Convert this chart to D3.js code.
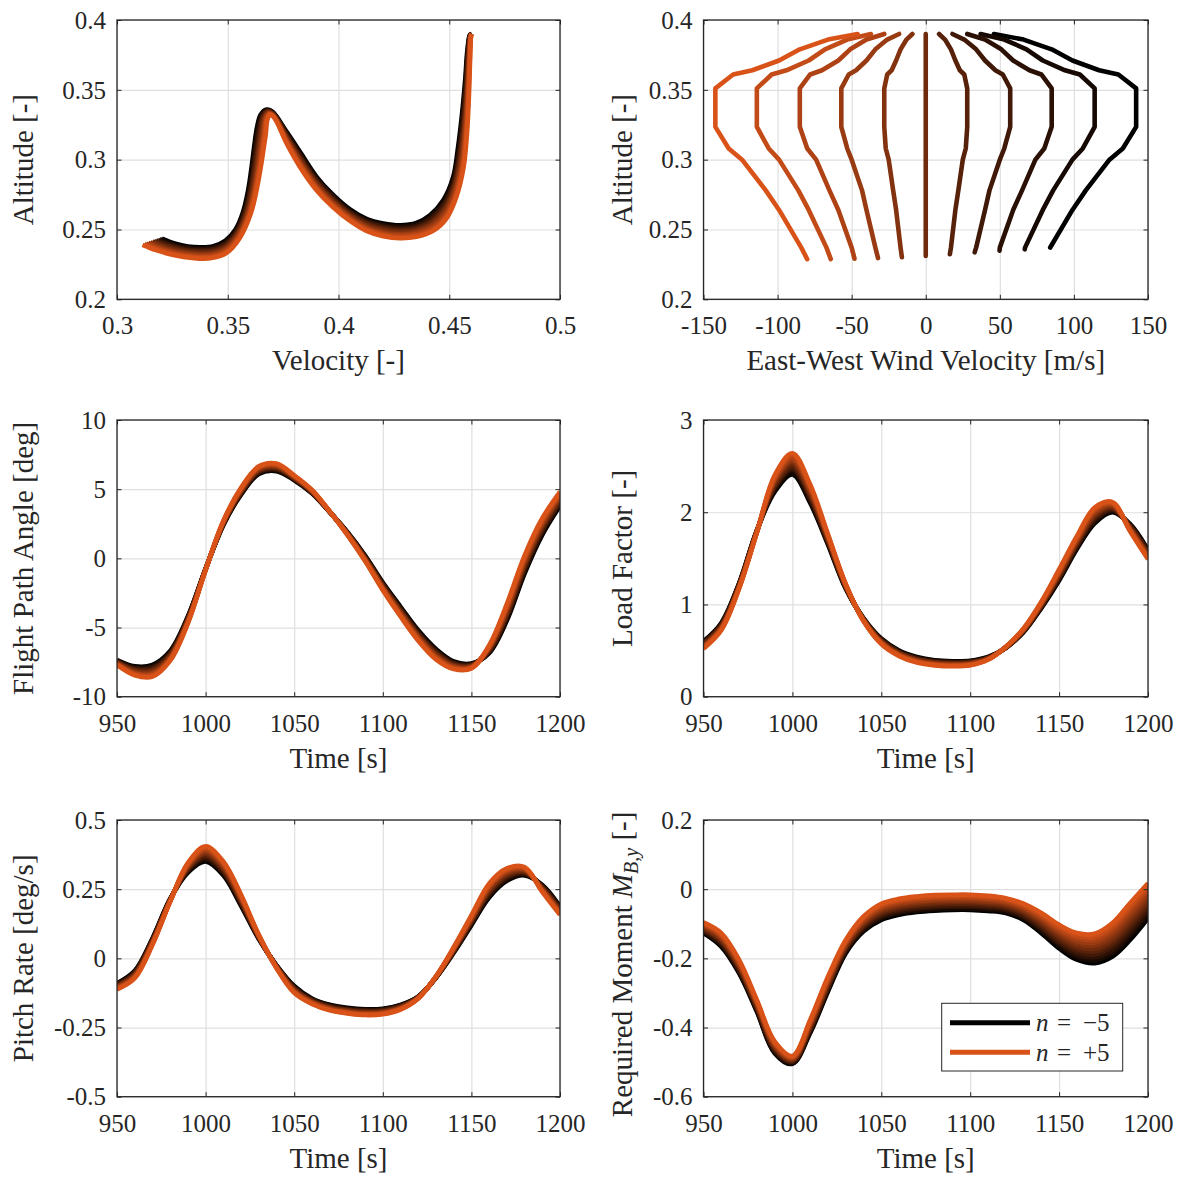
<!DOCTYPE html>
<html>
<head>
<meta charset="utf-8">
<script src="https://cdn.jsdelivr.net/npm/d3@7"></script>
<style>
  body { margin: 0; background: #fff; }
  svg text { font-family: "Liberation Serif", "Times New Roman", serif; fill: #262626; }
</style>
</head>
<body>
<svg id="fig" width="1180" height="1177"></svg>
<script>
// Wind-scaling parameter of each run; every table below has one column per run, n = -5 ... +5.
const nValues = [-5, -4, -3, -2, -1, 0, 1, 2, 3, 4, 5];

// ---- Trajectory: velocity / altitude samples along the flight (rows = samples) ----
const trajVelocity = [
  [0.3202,0.3193,0.3185,0.3176,0.3167,0.3159,0.3150,0.3141,0.3132,0.3124,0.3115],
  [0.3260,0.3252,0.3244,0.3236,0.3228,0.3220,0.3212,0.3204,0.3196,0.3188,0.3180],
  [0.3320,0.3314,0.3308,0.3302,0.3296,0.3290,0.3284,0.3278,0.3272,0.3266,0.3260],
  [0.3380,0.3376,0.3372,0.3368,0.3364,0.3360,0.3356,0.3352,0.3348,0.3344,0.3340],
  [0.3435,0.3434,0.3432,0.3431,0.3429,0.3428,0.3426,0.3425,0.3423,0.3422,0.3420],
  [0.3490,0.3491,0.3491,0.3492,0.3492,0.3493,0.3493,0.3494,0.3494,0.3495,0.3495],
  [0.3535,0.3537,0.3539,0.3541,0.3543,0.3545,0.3547,0.3549,0.3551,0.3553,0.3555],
  [0.3568,0.3572,0.3575,0.3579,0.3582,0.3586,0.3590,0.3593,0.3597,0.3600,0.3604],
  [0.3592,0.3596,0.3600,0.3603,0.3607,0.3611,0.3615,0.3619,0.3622,0.3626,0.3630],
  [0.3608,0.3612,0.3616,0.3620,0.3624,0.3629,0.3633,0.3637,0.3641,0.3645,0.3649],
  [0.3620,0.3624,0.3628,0.3633,0.3637,0.3641,0.3645,0.3649,0.3654,0.3658,0.3662],
  [0.3632,0.3636,0.3640,0.3644,0.3648,0.3652,0.3656,0.3660,0.3664,0.3668,0.3672],
  [0.3648,0.3651,0.3654,0.3657,0.3660,0.3663,0.3666,0.3669,0.3672,0.3675,0.3678],
  [0.3672,0.3674,0.3676,0.3677,0.3679,0.3681,0.3683,0.3685,0.3686,0.3688,0.3690],
  [0.3700,0.3701,0.3702,0.3703,0.3704,0.3705,0.3706,0.3707,0.3708,0.3709,0.3710],
  [0.3766,0.3766,0.3766,0.3766,0.3766,0.3766,0.3766,0.3766,0.3766,0.3766,0.3766],
  [0.3826,0.3826,0.3826,0.3826,0.3826,0.3826,0.3826,0.3826,0.3826,0.3826,0.3826],
  [0.3901,0.3901,0.3901,0.3901,0.3901,0.3901,0.3901,0.3901,0.3901,0.3901,0.3901],
  [0.3977,0.3977,0.3977,0.3977,0.3977,0.3977,0.3977,0.3977,0.3977,0.3977,0.3977],
  [0.4052,0.4052,0.4052,0.4052,0.4052,0.4052,0.4052,0.4052,0.4052,0.4052,0.4052],
  [0.4126,0.4126,0.4126,0.4126,0.4126,0.4126,0.4126,0.4126,0.4126,0.4126,0.4126],
  [0.4202,0.4202,0.4202,0.4202,0.4202,0.4202,0.4202,0.4202,0.4202,0.4202,0.4202],
  [0.4278,0.4278,0.4278,0.4278,0.4278,0.4278,0.4278,0.4278,0.4278,0.4278,0.4278],
  [0.4352,0.4352,0.4352,0.4352,0.4352,0.4352,0.4352,0.4352,0.4352,0.4352,0.4352],
  [0.4413,0.4414,0.4416,0.4417,0.4419,0.4420,0.4421,0.4423,0.4424,0.4426,0.4427],
  [0.4473,0.4474,0.4476,0.4477,0.4479,0.4480,0.4481,0.4483,0.4484,0.4486,0.4487],
  [0.4518,0.4519,0.4521,0.4522,0.4524,0.4525,0.4526,0.4528,0.4529,0.4531,0.4532],
  [0.4540,0.4543,0.4545,0.4548,0.4550,0.4553,0.4555,0.4558,0.4560,0.4563,0.4565],
  [0.4558,0.4560,0.4562,0.4565,0.4567,0.4569,0.4571,0.4573,0.4576,0.4578,0.4580],
  [0.4572,0.4574,0.4575,0.4577,0.4578,0.4580,0.4582,0.4583,0.4585,0.4586,0.4588],
  [0.4582,0.4583,0.4584,0.4585,0.4586,0.4588,0.4589,0.4590,0.4591,0.4592,0.4593],
  [0.4593,0.4594,0.4594,0.4595,0.4595,0.4596,0.4596,0.4597,0.4597,0.4598,0.4598],
  [0.4601,0.4601,0.4601,0.4601,0.4601,0.4601,0.4601,0.4601,0.4601,0.4601,0.4601]
];
const trajAltitude = [
  [0.2435,0.2431,0.2426,0.2422,0.2417,0.2413,0.2408,0.2404,0.2399,0.2395,0.2390],
  [0.2400,0.2395,0.2390,0.2385,0.2380,0.2375,0.2370,0.2365,0.2360,0.2355,0.2350],
  [0.2378,0.2372,0.2365,0.2359,0.2353,0.2347,0.2340,0.2334,0.2328,0.2321,0.2315],
  [0.2372,0.2364,0.2357,0.2349,0.2342,0.2334,0.2326,0.2319,0.2311,0.2304,0.2296],
  [0.2380,0.2371,0.2363,0.2354,0.2346,0.2337,0.2328,0.2320,0.2311,0.2303,0.2294],
  [0.2420,0.2411,0.2403,0.2394,0.2385,0.2377,0.2368,0.2359,0.2350,0.2342,0.2333],
  [0.2500,0.2494,0.2488,0.2482,0.2476,0.2471,0.2465,0.2459,0.2453,0.2447,0.2441],
  [0.2620,0.2619,0.2619,0.2618,0.2618,0.2617,0.2616,0.2616,0.2615,0.2615,0.2614],
  [0.2780,0.2780,0.2780,0.2780,0.2780,0.2780,0.2780,0.2780,0.2780,0.2780,0.2780],
  [0.2950,0.2950,0.2949,0.2949,0.2948,0.2948,0.2948,0.2947,0.2947,0.2946,0.2946],
  [0.3100,0.3098,0.3096,0.3094,0.3092,0.3090,0.3088,0.3086,0.3084,0.3082,0.3080],
  [0.3230,0.3226,0.3222,0.3217,0.3213,0.3209,0.3205,0.3201,0.3196,0.3192,0.3188],
  [0.3320,0.3316,0.3312,0.3308,0.3304,0.3300,0.3296,0.3292,0.3288,0.3284,0.3280],
  [0.3358,0.3354,0.3351,0.3347,0.3344,0.3340,0.3336,0.3333,0.3329,0.3326,0.3322],
  [0.3345,0.3341,0.3336,0.3332,0.3327,0.3323,0.3318,0.3314,0.3309,0.3305,0.3300],
  [0.3199,0.3191,0.3182,0.3174,0.3166,0.3158,0.3149,0.3141,0.3133,0.3124,0.3116],
  [0.3056,0.3045,0.3034,0.3024,0.3013,0.3002,0.2991,0.2980,0.2970,0.2959,0.2948],
  [0.2877,0.2867,0.2858,0.2848,0.2839,0.2829,0.2819,0.2810,0.2800,0.2791,0.2781],
  [0.2745,0.2736,0.2727,0.2719,0.2710,0.2701,0.2692,0.2683,0.2675,0.2666,0.2657],
  [0.2643,0.2635,0.2627,0.2618,0.2610,0.2602,0.2594,0.2586,0.2577,0.2569,0.2561],
  [0.2576,0.2567,0.2559,0.2550,0.2542,0.2533,0.2524,0.2516,0.2507,0.2499,0.2490],
  [0.2543,0.2534,0.2525,0.2516,0.2507,0.2498,0.2488,0.2479,0.2470,0.2461,0.2452],
  [0.2530,0.2521,0.2511,0.2502,0.2493,0.2484,0.2474,0.2465,0.2456,0.2446,0.2437],
  [0.2547,0.2537,0.2527,0.2517,0.2507,0.2497,0.2487,0.2477,0.2467,0.2457,0.2447],
  [0.2602,0.2591,0.2580,0.2568,0.2557,0.2546,0.2535,0.2524,0.2512,0.2501,0.2490],
  [0.2710,0.2697,0.2684,0.2670,0.2657,0.2644,0.2631,0.2618,0.2604,0.2591,0.2578],
  [0.2877,0.2863,0.2848,0.2834,0.2819,0.2805,0.2791,0.2776,0.2762,0.2747,0.2733],
  [0.3092,0.3078,0.3063,0.3049,0.3034,0.3020,0.3006,0.2991,0.2977,0.2962,0.2948],
  [0.3331,0.3317,0.3302,0.3288,0.3274,0.3260,0.3245,0.3231,0.3217,0.3202,0.3188],
  [0.3570,0.3556,0.3541,0.3527,0.3513,0.3499,0.3484,0.3470,0.3456,0.3441,0.3427],
  [0.3785,0.3773,0.3761,0.3749,0.3737,0.3725,0.3713,0.3701,0.3689,0.3677,0.3665],
  [0.3892,0.3891,0.3890,0.3888,0.3887,0.3886,0.3885,0.3884,0.3882,0.3881,0.3880],
  [0.3900,0.3900,0.3900,0.3900,0.3900,0.3900,0.3900,0.3900,0.3900,0.3900,0.3900]
];

// ---- East-west wind profile seen along each run (rows = runs) ----
const windKnotAlt = [0.237, 0.264, 0.278, 0.300, 0.308, 0.3235, 0.351, 0.361, 0.364, 0.371, 0.379, 0.386, 0.390];
const windSpeed = [
  [  84,  99, 108, 124, 133, 142, 142, 130, 117,  99,  85,  66,  46],
  [  67,  79,  86,  99, 106, 114, 114, 104,  94,  79,  68,  53,  37],
  [  50,  59,  65,  74,  80,  85,  85,  78,  70,  59,  51,  40,  28],
  [  34,  40,  43,  50,  53,  57,  57,  52,  47,  40,  34,  26,  18],
  [  17,  20,  22,  25,  27,  28,  28,  26,  23,  20,  17,  13,   9],
  [   0,   0,   0,   0,   0,   0,   0,   0,   0,   0,   0,   0,   0],
  [ -17, -20, -22, -25, -27, -28, -28, -26, -23, -20, -17, -13,  -9],
  [ -34, -40, -43, -50, -53, -57, -57, -52, -47, -40, -34, -26, -18],
  [ -50, -59, -65, -74, -80, -85, -85, -78, -70, -59, -51, -40, -28],
  [ -67, -79, -86, -99,-106,-114,-114,-104, -94, -79, -68, -53, -37],
  [ -84, -99,-108,-124,-133,-142,-142,-130,-117, -99, -85, -66, -46]
];
// lowest altitude reached by each run and the wind there
const windBottomAlt = [0.2371, 0.2358, 0.2348, 0.2336, 0.2323, 0.2310, 0.2301, 0.2295, 0.2291, 0.2288, 0.2287];
const windBottomSpeed = [84, 66.8, 49.8, 33, 16.3, 0, -16.1, -32.2, -48.1, -64.1, -80];

// ---- Time histories (rows = time samples) ----
const timeS = [950,960,970,980,990,1000,1010,1020,1030,1040,1050,1060,1070,1080,1090,1100,1110,1120,1130,1140,1150,1160,1170,1180,1190,1200];

const flightPathAngleDeg = [
  [-7.35,-7.39,-7.42,-7.46,-7.49,-7.53,-7.56,-7.60,-7.63,-7.67,-7.70],
  [-7.80,-7.87,-7.93,-8.00,-8.06,-8.13,-8.19,-8.26,-8.32,-8.39,-8.45],
  [-7.70,-7.79,-7.87,-7.96,-8.04,-8.13,-8.21,-8.30,-8.38,-8.47,-8.55],
  [-6.70,-6.77,-6.84,-6.91,-6.98,-7.05,-7.12,-7.19,-7.26,-7.33,-7.40],
  [-4.20,-4.25,-4.30,-4.35,-4.40,-4.45,-4.50,-4.55,-4.60,-4.65,-4.70],
  [-0.75,-0.76,-0.77,-0.78,-0.79,-0.80,-0.81,-0.82,-0.83,-0.84,-0.85],
  [2.40,2.43,2.46,2.49,2.52,2.55,2.58,2.61,2.64,2.67,2.70],
  [4.60,4.65,4.70,4.75,4.80,4.85,4.90,4.95,5.00,5.05,5.10],
  [6.10,6.16,6.21,6.27,6.32,6.38,6.43,6.49,6.54,6.60,6.65],
  [6.30,6.36,6.41,6.47,6.52,6.58,6.63,6.69,6.74,6.80,6.85],
  [5.65,5.69,5.72,5.76,5.79,5.83,5.86,5.90,5.93,5.97,6.00],
  [4.70,4.73,4.75,4.78,4.80,4.83,4.85,4.88,4.90,4.93,4.95],
  [3.35,3.36,3.36,3.37,3.37,3.38,3.38,3.39,3.39,3.40,3.40],
  [1.90,1.88,1.86,1.84,1.82,1.80,1.78,1.76,1.74,1.72,1.70],
  [0.20,0.16,0.12,0.08,0.04,0.00,-0.04,-0.08,-0.12,-0.16,-0.20],
  [-1.75,-1.81,-1.86,-1.92,-1.97,-2.03,-2.08,-2.14,-2.19,-2.25,-2.30],
  [-3.50,-3.57,-3.64,-3.71,-3.78,-3.85,-3.92,-3.99,-4.06,-4.13,-4.20],
  [-5.20,-5.28,-5.35,-5.43,-5.50,-5.58,-5.65,-5.73,-5.80,-5.88,-5.95],
  [-6.55,-6.63,-6.70,-6.78,-6.85,-6.93,-7.00,-7.08,-7.15,-7.23,-7.30],
  [-7.45,-7.51,-7.56,-7.62,-7.67,-7.73,-7.78,-7.84,-7.89,-7.95,-8.00],
  [-7.60,-7.64,-7.67,-7.71,-7.74,-7.78,-7.81,-7.85,-7.88,-7.92,-7.95],
  [-6.85,-6.80,-6.74,-6.69,-6.63,-6.58,-6.52,-6.47,-6.41,-6.36,-6.30],
  [-4.50,-4.38,-4.26,-4.14,-4.02,-3.90,-3.78,-3.66,-3.54,-3.42,-3.30],
  [-1.10,-0.97,-0.84,-0.71,-0.58,-0.45,-0.32,-0.19,-0.06,0.07,0.20],
  [1.70,1.82,1.94,2.06,2.18,2.30,2.42,2.54,2.66,2.78,2.90],
  [3.80,3.90,4.00,4.10,4.20,4.30,4.40,4.50,4.60,4.70,4.80]
];

const loadFactor = [
  [0.60,0.59,0.58,0.58,0.57,0.56,0.55,0.54,0.54,0.53,0.52],
  [0.80,0.79,0.78,0.78,0.77,0.76,0.75,0.74,0.74,0.73,0.72],
  [1.23,1.22,1.22,1.21,1.21,1.20,1.19,1.19,1.18,1.18,1.17],
  [1.80,1.80,1.80,1.79,1.79,1.79,1.79,1.79,1.78,1.78,1.78],
  [2.22,2.24,2.26,2.27,2.29,2.31,2.33,2.35,2.36,2.38,2.40],
  [2.41,2.43,2.46,2.48,2.50,2.53,2.55,2.57,2.59,2.62,2.64],
  [2.10,2.12,2.14,2.16,2.18,2.20,2.22,2.24,2.26,2.28,2.30],
  [1.65,1.66,1.67,1.68,1.69,1.71,1.72,1.73,1.74,1.75,1.76],
  [1.17,1.18,1.18,1.19,1.19,1.20,1.20,1.21,1.21,1.22,1.22],
  [0.85,0.85,0.84,0.84,0.84,0.84,0.83,0.83,0.83,0.82,0.82],
  [0.63,0.62,0.62,0.61,0.61,0.60,0.59,0.59,0.58,0.58,0.57],
  [0.50,0.49,0.49,0.48,0.48,0.47,0.46,0.46,0.45,0.45,0.44],
  [0.43,0.42,0.42,0.41,0.41,0.40,0.39,0.39,0.38,0.38,0.37],
  [0.395,0.39,0.384,0.379,0.373,0.368,0.362,0.357,0.351,0.346,0.34],
  [0.385,0.38,0.374,0.369,0.363,0.358,0.352,0.347,0.341,0.336,0.33],
  [0.39,0.385,0.38,0.375,0.37,0.365,0.36,0.355,0.35,0.345,0.34],
  [0.43,0.427,0.424,0.421,0.418,0.415,0.412,0.409,0.406,0.403,0.40],
  [0.53,0.53,0.53,0.53,0.53,0.535,0.535,0.54,0.54,0.54,0.54],
  [0.70,0.704,0.708,0.712,0.716,0.72,0.724,0.728,0.732,0.736,0.74],
  [0.96,0.967,0.974,0.981,0.988,0.995,1.002,1.009,1.016,1.023,1.03],
  [1.26,1.272,1.284,1.296,1.308,1.32,1.332,1.344,1.356,1.368,1.38],
  [1.60,1.614,1.628,1.642,1.656,1.67,1.684,1.698,1.712,1.726,1.74],
  [1.88,1.897,1.914,1.931,1.948,1.965,1.982,1.999,2.016,2.033,2.05],
  [2.00,2.011,2.022,2.033,2.044,2.055,2.066,2.077,2.088,2.099,2.11],
  [1.87,1.86,1.85,1.85,1.84,1.83,1.82,1.81,1.81,1.80,1.79],
  [1.59,1.58,1.57,1.56,1.55,1.54,1.53,1.52,1.51,1.50,1.49]
];

const pitchRateDegS = [
  [-0.090,-0.092,-0.094,-0.097,-0.099,-0.101,-0.103,-0.105,-0.108,-0.110,-0.112],
  [-0.045,-0.048,-0.050,-0.053,-0.056,-0.059,-0.061,-0.064,-0.067,-0.069,-0.072],
  [0.072,0.070,0.067,0.065,0.063,0.061,0.058,0.056,0.054,0.051,0.049],
  [0.215,0.214,0.213,0.212,0.211,0.210,0.209,0.208,0.207,0.206,0.205],
  [0.310,0.314,0.317,0.321,0.324,0.328,0.331,0.335,0.338,0.342,0.345],
  [0.350,0.356,0.361,0.367,0.372,0.378,0.383,0.389,0.394,0.400,0.405],
  [0.300,0.305,0.310,0.315,0.320,0.325,0.330,0.335,0.340,0.345,0.350],
  [0.190,0.194,0.198,0.202,0.206,0.210,0.214,0.218,0.222,0.226,0.230],
  [0.070,0.072,0.073,0.075,0.076,0.078,0.079,0.081,0.082,0.084,0.085],
  [-0.025,-0.026,-0.027,-0.028,-0.029,-0.030,-0.031,-0.032,-0.033,-0.034,-0.035],
  [-0.100,-0.103,-0.105,-0.108,-0.110,-0.113,-0.115,-0.118,-0.120,-0.123,-0.125],
  [-0.145,-0.147,-0.149,-0.151,-0.153,-0.155,-0.157,-0.159,-0.161,-0.163,-0.165],
  [-0.168,-0.170,-0.172,-0.174,-0.176,-0.178,-0.180,-0.182,-0.184,-0.186,-0.188],
  [-0.179,-0.181,-0.183,-0.185,-0.187,-0.189,-0.191,-0.193,-0.195,-0.197,-0.199],
  [-0.184,-0.186,-0.188,-0.190,-0.192,-0.195,-0.197,-0.199,-0.201,-0.203,-0.205],
  [-0.182,-0.184,-0.186,-0.188,-0.190,-0.192,-0.194,-0.196,-0.198,-0.200,-0.202],
  [-0.168,-0.170,-0.171,-0.173,-0.175,-0.177,-0.178,-0.180,-0.182,-0.183,-0.185],
  [-0.138,-0.139,-0.139,-0.140,-0.141,-0.142,-0.142,-0.143,-0.144,-0.144,-0.145],
  [-0.070,-0.070,-0.069,-0.069,-0.068,-0.068,-0.067,-0.067,-0.066,-0.066,-0.065],
  [0.020,0.022,0.024,0.026,0.028,0.030,0.032,0.034,0.036,0.038,0.040],
  [0.120,0.124,0.127,0.131,0.134,0.138,0.141,0.145,0.148,0.152,0.155],
  [0.220,0.225,0.230,0.235,0.240,0.245,0.250,0.255,0.260,0.265,0.270],
  [0.280,0.285,0.289,0.294,0.298,0.303,0.307,0.312,0.316,0.321,0.325],
  [0.300,0.303,0.306,0.309,0.312,0.315,0.318,0.321,0.324,0.327,0.330],
  [0.265,0.263,0.260,0.258,0.255,0.253,0.250,0.248,0.245,0.243,0.240],
  [0.187,0.184,0.181,0.178,0.175,0.172,0.169,0.166,0.163,0.160,0.157]
];

const requiredMoment = [
  [-0.127,-0.124,-0.121,-0.118,-0.115,-0.112,-0.108,-0.105,-0.102,-0.099,-0.096],
  [-0.166,-0.162,-0.158,-0.154,-0.150,-0.147,-0.143,-0.139,-0.135,-0.131,-0.127],
  [-0.243,-0.239,-0.235,-0.231,-0.227,-0.224,-0.220,-0.216,-0.212,-0.208,-0.204],
  [-0.354,-0.351,-0.347,-0.344,-0.340,-0.337,-0.334,-0.330,-0.327,-0.323,-0.320],
  [-0.474,-0.471,-0.467,-0.464,-0.460,-0.457,-0.454,-0.450,-0.447,-0.443,-0.440],
  [-0.505,-0.503,-0.500,-0.498,-0.496,-0.494,-0.491,-0.489,-0.487,-0.484,-0.482],
  [-0.416,-0.412,-0.408,-0.405,-0.401,-0.397,-0.393,-0.389,-0.386,-0.382,-0.378],
  [-0.296,-0.292,-0.287,-0.283,-0.279,-0.275,-0.270,-0.266,-0.262,-0.257,-0.253],
  [-0.185,-0.181,-0.177,-0.174,-0.170,-0.166,-0.162,-0.158,-0.155,-0.151,-0.147],
  [-0.122,-0.118,-0.113,-0.109,-0.105,-0.101,-0.096,-0.092,-0.088,-0.083,-0.079],
  [-0.089,-0.084,-0.080,-0.075,-0.070,-0.066,-0.061,-0.056,-0.051,-0.047,-0.042],
  [-0.074,-0.069,-0.065,-0.060,-0.056,-0.051,-0.046,-0.042,-0.037,-0.033,-0.028],
  [-0.066,-0.062,-0.057,-0.053,-0.048,-0.044,-0.039,-0.035,-0.030,-0.026,-0.021],
  [-0.062,-0.058,-0.053,-0.049,-0.044,-0.040,-0.035,-0.031,-0.026,-0.022,-0.017],
  [-0.060,-0.056,-0.051,-0.047,-0.042,-0.038,-0.034,-0.029,-0.025,-0.020,-0.016],
  [-0.060,-0.056,-0.051,-0.047,-0.042,-0.038,-0.034,-0.029,-0.025,-0.020,-0.016],
  [-0.063,-0.059,-0.054,-0.050,-0.045,-0.041,-0.037,-0.032,-0.028,-0.023,-0.019],
  [-0.069,-0.065,-0.060,-0.056,-0.052,-0.048,-0.043,-0.039,-0.035,-0.030,-0.026],
  [-0.089,-0.084,-0.080,-0.075,-0.070,-0.066,-0.061,-0.056,-0.051,-0.047,-0.042],
  [-0.127,-0.121,-0.115,-0.110,-0.104,-0.098,-0.092,-0.086,-0.081,-0.075,-0.069],
  [-0.171,-0.164,-0.157,-0.151,-0.144,-0.137,-0.130,-0.123,-0.117,-0.110,-0.103],
  [-0.204,-0.196,-0.189,-0.181,-0.173,-0.166,-0.158,-0.150,-0.142,-0.135,-0.127],
  [-0.214,-0.206,-0.197,-0.189,-0.180,-0.172,-0.163,-0.155,-0.146,-0.138,-0.129],
  [-0.195,-0.185,-0.176,-0.166,-0.156,-0.147,-0.137,-0.127,-0.117,-0.108,-0.098],
  [-0.146,-0.135,-0.125,-0.114,-0.104,-0.093,-0.082,-0.072,-0.061,-0.051,-0.040],
  [-0.084,-0.074,-0.064,-0.054,-0.044,-0.034,-0.023,-0.013,-0.003,0.007,0.017]
];

// ---- Axis ticks and labels ----
const velocityTicks = [0.3, 0.35, 0.4, 0.45, 0.5];
const velocityTickLabels = ["0.3", "0.35", "0.4", "0.45", "0.5"];
const altitudeTicks = [0.2, 0.25, 0.3, 0.35, 0.4];
const altitudeTickLabels = ["0.2", "0.25", "0.3", "0.35", "0.4"];
const windTicks = [-150, -100, -50, 0, 50, 100, 150];
const windTickLabels = ["-150", "-100", "-50", "0", "50", "100", "150"];
const timeTicks = [950, 1000, 1050, 1100, 1150, 1200];
const timeTickLabels = ["950", "1000", "1050", "1100", "1150", "1200"];
const gammaTicks = [-10, -5, 0, 5, 10];
const gammaTickLabels = ["-10", "-5", "0", "5", "10"];
const loadTicks = [0, 1, 2, 3];
const loadTickLabels = ["0", "1", "2", "3"];
const pitchTicks = [-0.5, -0.25, 0, 0.25, 0.5];
const pitchTickLabels = ["-0.5", "-0.25", "0", "0.25", "0.5"];
const momentTicks = [-0.6, -0.4, -0.2, 0, 0.2];
const momentTickLabels = ["-0.6", "-0.4", "-0.2", "0", "0.2"];
const legendLabels = ["\u22125", "+5"];

// ---------------------------------------------------------------------------
const svg = d3.select("#fig");
svg.append("rect").attr("width", 1180).attr("height", 1177).attr("fill", "#fff");

const FONT = '"Liberation Serif", "Times New Roman", serif';
const TICK_FONT = 25, LABEL_FONT = 29, TICK_LEN = 4.5, LINE_W = 4.6;
const AXIS_COLOR = "#262626", GRID_COLOR = "#dfdfdf";
const COLS = [[117, 560], [703.5, 1148]];
const ROWS = [[20, 299.3], [420, 696.7], [820, 1096.7]];
const YLABEL_X = [33, 632];

const runColor = d3.scaleLinear().domain([-5, 5])
  .range(["#000000", "#d95319"]).interpolate(d3.interpolateRgb);

function styleTicks(sel, withText) {
  sel.select(".domain").remove();
  sel.selectAll(".tick line").attr("stroke", AXIS_COLOR).attr("stroke-width", 1);
  if (!withText) sel.selectAll(".tick text").remove();
  sel.attr("font-family", FONT).attr("font-size", TICK_FONT);
}

function drawPanel(cfg) {
  const [left, right] = COLS[cfg.col];
  const [top, bottom] = ROWS[cfg.row];
  const x = d3.scaleLinear().domain(cfg.xDomain).range([left, right]);
  const y = d3.scaleLinear().domain(cfg.yDomain).range([bottom, top]);
  const g = svg.append("g");

  // grid
  const gridStyle = s => {
    s.select(".domain").remove();
    s.selectAll(".tick line").attr("stroke", GRID_COLOR).attr("stroke-width", 1.2);
    s.selectAll(".tick text").remove();
  };
  g.append("g").attr("transform", `translate(0,${bottom})`)
    .call(d3.axisBottom(x).tickValues(cfg.xTicks).tickSize(-(bottom - top)).tickFormat(""))
    .call(gridStyle);
  g.append("g").attr("transform", `translate(${left},0)`)
    .call(d3.axisLeft(y).tickValues(cfg.yTicks).tickSize(-(right - left)).tickFormat(""))
    .call(gridStyle);

  // data layer, clipped to the axes box
  const clipId = "clip-" + cfg.id;
  svg.append("clipPath").attr("id", clipId).append("rect")
    .attr("x", left).attr("y", top).attr("width", right - left).attr("height", bottom - top);
  const plot = g.append("g").attr("clip-path", `url(#${clipId})`);

  // ticks on all four sides, pointing inward
  const bx = g.append("g").attr("transform", `translate(0,${bottom})`)
    .call(d3.axisBottom(x).tickValues(cfg.xTicks).tickSize(-TICK_LEN)
      .tickFormat((d, i) => cfg.xTickLabels[i]));
  styleTicks(bx, true);
  bx.selectAll(".tick text").attr("y", 35).attr("dy", 0)
    .attr("font-family", FONT).attr("font-size", TICK_FONT).attr("fill", AXIS_COLOR);
  const tx = g.append("g").attr("transform", `translate(0,${top})`)
    .call(d3.axisTop(x).tickValues(cfg.xTicks).tickSize(-TICK_LEN));
  styleTicks(tx, false);
  const ly = g.append("g").attr("transform", `translate(${left},0)`)
    .call(d3.axisLeft(y).tickValues(cfg.yTicks).tickSize(-TICK_LEN).tickPadding(11)
      .tickFormat((d, i) => cfg.yTickLabels[i]));
  styleTicks(ly, true);
  ly.selectAll(".tick text").attr("dy", "0.33em")
    .attr("font-family", FONT).attr("font-size", TICK_FONT).attr("fill", AXIS_COLOR);
  const ry = g.append("g").attr("transform", `translate(${right},0)`)
    .call(d3.axisRight(y).tickValues(cfg.yTicks).tickSize(-TICK_LEN));
  styleTicks(ry, false);

  // axes box
  g.append("rect").attr("x", left).attr("y", top)
    .attr("width", right - left).attr("height", bottom - top)
    .attr("fill", "none").attr("stroke", AXIS_COLOR).attr("stroke-width", 1.3);

  // axis labels
  g.append("text").attr("x", (left + right) / 2).attr("y", bottom + 71)
    .attr("text-anchor", "middle").attr("font-size", LABEL_FONT).attr("font-family", FONT)
    .text(cfg.xLabel);
  const yl = g.append("text")
    .attr("transform", `translate(${YLABEL_X[cfg.col]},${(top + bottom) / 2 + (cfg.yLabelShift || 0)}) rotate(-90)`)
    .attr("text-anchor", "middle").attr("font-size", LABEL_FONT).attr("font-family", FONT);
  if (typeof cfg.yLabel === "function") cfg.yLabel(yl); else yl.text(cfg.yLabel);

  return { g, plot, x, y, left, right, top, bottom };
}

function drawRuns(panel, pointsFor, curve, cap) {
  const line = d3.line().x(d => panel.x(d[0])).y(d => panel.y(d[1])).curve(curve);
  nValues.forEach((n, k) => {
    panel.plot.append("path")
      .attr("d", line(pointsFor(k)))
      .attr("fill", "none")
      .attr("stroke", runColor(n))
      .attr("stroke-width", LINE_W)
      .attr("stroke-linejoin", "round")
      .attr("stroke-linecap", cap || "butt");
  });
}

const smooth = d3.curveCatmullRom.alpha(0.5);

// 1. Altitude vs velocity
const p1 = drawPanel({
  id: "traj", col: 0, row: 0, xDomain: [0.3, 0.5], yDomain: [0.2, 0.4],
  xTicks: velocityTicks, xTickLabels: velocityTickLabels,
  yTicks: altitudeTicks, yTickLabels: altitudeTickLabels,
  xLabel: "Velocity [-]", yLabel: "Altitude [-]"
});
drawRuns(p1, k => trajVelocity.map((row, i) => [row[k], trajAltitude[i][k]]), smooth, "butt");

// 2. Altitude vs east-west wind
const p2 = drawPanel({
  id: "wind", col: 1, row: 0, xDomain: [-150, 150], yDomain: [0.2, 0.4],
  xTicks: windTicks, xTickLabels: windTickLabels,
  yTicks: altitudeTicks, yTickLabels: altitudeTickLabels,
  xLabel: "East-West Wind Velocity [m/s]", yLabel: "Altitude [-]"
});
drawRuns(p2, k => {
  const pts = [[windBottomSpeed[k], windBottomAlt[k]]];
  windKnotAlt.forEach((h, j) => { if (h > windBottomAlt[k]) pts.push([windSpeed[k][j], h]); });
  return pts;
}, d3.curveLinear, "round");

// 3-6. Time histories
function timePoints(table) {
  return k => timeS.map((t, i) => [t, table[i][k]]);
}
const p3 = drawPanel({
  id: "gamma", col: 0, row: 1, xDomain: [950, 1200], yDomain: [-10, 10],
  xTicks: timeTicks, xTickLabels: timeTickLabels,
  yTicks: gammaTicks, yTickLabels: gammaTickLabels,
  xLabel: "Time [s]", yLabel: "Flight Path Angle [deg]"
});
drawRuns(p3, timePoints(flightPathAngleDeg), smooth);

const p4 = drawPanel({
  id: "load", col: 1, row: 1, xDomain: [950, 1200], yDomain: [0, 3],
  xTicks: timeTicks, xTickLabels: timeTickLabels,
  yTicks: loadTicks, yTickLabels: loadTickLabels,
  xLabel: "Time [s]", yLabel: "Load Factor [-]"
});
drawRuns(p4, timePoints(loadFactor), smooth);

const p5 = drawPanel({
  id: "pitch", col: 0, row: 2, xDomain: [950, 1200], yDomain: [-0.5, 0.5],
  xTicks: timeTicks, xTickLabels: timeTickLabels,
  yTicks: pitchTicks, yTickLabels: pitchTickLabels,
  xLabel: "Time [s]", yLabel: "Pitch Rate [deg/s]"
});
drawRuns(p5, timePoints(pitchRateDegS), smooth);

const p6 = drawPanel({
  id: "moment", col: 1, row: 2, xDomain: [950, 1200], yDomain: [-0.6, 0.2],
  xTicks: timeTicks, xTickLabels: timeTickLabels,
  yTicks: momentTicks, yTickLabels: momentTickLabels,
  xLabel: "Time [s]", yLabelShift: 6,
  yLabel: t => {
    t.append("tspan").text("Required Moment ");
    t.append("tspan").attr("font-style", "italic").text("M");
    t.append("tspan").attr("font-style", "italic").attr("font-size", 20).attr("dy", 6).text("B,y");
    t.append("tspan").attr("dy", -6).text(" [-]");
  }
});
drawRuns(p6, timePoints(requiredMoment), smooth);

// legend for the two extreme runs
const legend = p6.g.append("g");
legend.append("rect").attr("x", 941.7).attr("y", 1003.3).attr("width", 181).attr("height", 67.7)
  .attr("fill", "#fff").attr("stroke", AXIS_COLOR).attr("stroke-width", 1);
[0, 1].forEach(i => {
  const n = i === 0 ? nValues[0] : nValues[nValues.length - 1];
  const ly = 1022.7 + i * 29.6;
  legend.append("line").attr("x1", 950).attr("x2", 1030).attr("y1", ly).attr("y2", ly)
    .attr("stroke", runColor(n)).attr("stroke-width", 5);
  const t = legend.append("text").attr("y", ly + 8.2).attr("font-size", TICK_FONT).attr("font-family", FONT);
  t.append("tspan").attr("x", 1036).attr("font-style", "italic").text("n");
  t.append("tspan").attr("x", 1057).text("=");
  t.append("tspan").attr("x", 1083).text(legendLabels[i]);
});
</script>
</body>
</html>
